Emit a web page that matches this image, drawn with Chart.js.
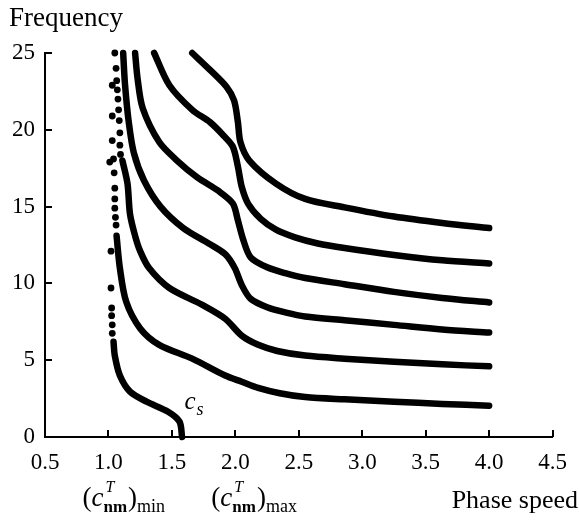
<!DOCTYPE html>
<html>
<head>
<meta charset="utf-8">
<script src="https://cdn.jsdelivr.net/npm/chart.js@4.4.0/dist/chart.umd.min.js"></script>
<style>
  html, body { margin: 0; padding: 0; background: #fff; }
  #wrap { width: 579px; height: 524px; }
</style>
</head>
<body>
<div id="wrap"><canvas id="dispChart" width="579" height="524"></canvas></div>
<script>
var xTicks = [0.5, 1.0, 1.5, 2.0, 2.5, 3.0, 3.5, 4.0, 4.5];
var yTicks = [0, 5, 10, 15, 20, 25];

// c_s branch: solid part, then loose dots along (c_nm^T)_min
var m0X = [1.04, 1.05, 1.09, 1.17, 1.30, 1.47, 1.56, 1.58];
var m0Y = [6.2, 5.3, 4.0, 2.95, 2.3, 1.65, 1.0, 0];
var m0DotX = [1.03, 1.03, 1.025, 1.025, 1.02, 1.02, 1.01, 1.03, 1.03, 1.03];
var m0DotY = [6.75, 7.3, 7.9, 8.4, 9.7, 12.1, 17.9, 19.3, 20.9, 22.9];

// first branch (ends near 2 at c = 4)
var m1X = [1.064, 1.09, 1.14, 1.25, 1.40, 1.66, 1.92, 2.05, 2.18, 2.35, 2.55, 2.86, 3.25, 3.63, 4.0];
var m1Y = [13.1, 11.0, 8.8, 7.07, 6.0, 5.1, 4.0, 3.6, 3.2, 2.85, 2.6, 2.45, 2.3, 2.15, 2.04];
var m1DotX = [1.06, 1.055, 1.05, 1.05, 1.05, 1.045, 1.04];
var m1DotY = [13.8, 14.3, 14.9, 15.5, 16.2, 17.2, 18.1];

// second branch
var m2X = [1.11, 1.15, 1.17, 1.21, 1.25, 1.32, 1.48, 1.74, 1.92, 2.05, 2.18, 2.33, 2.55, 2.86, 3.25, 3.63, 4.0];
var m2Y = [18.0, 16.5, 14.5, 13.1, 12.1, 11.0, 9.7, 8.6, 7.7, 6.6, 6.0, 5.6, 5.3, 5.1, 4.9, 4.73, 4.6];
var m2DotX = [1.05, 1.06, 1.065, 1.07, 1.075, 1.08, 1.085, 1.09, 1.09, 1.095];
var m2DotY = [25.0, 24.0, 23.2, 22.6, 22.0, 21.3, 20.6, 19.8, 19.0, 18.4];

// third .. sixth branches
var m3X = [1.116, 1.13, 1.16, 1.20, 1.28, 1.41, 1.59, 1.79, 1.92, 1.995, 2.05, 2.12, 2.25, 2.40, 2.55, 2.86, 3.25, 3.63, 4.0];
var m3Y = [25.0, 23.0, 20.5, 18.5, 16.7, 15.0, 13.6, 12.6, 11.9, 11.0, 9.9, 9.0, 8.45, 8.1, 7.85, 7.6, 7.3, 7.0, 6.8];
var m4X = [1.21, 1.23, 1.27, 1.40, 1.54, 1.70, 1.87, 1.98, 2.02, 2.06, 2.12, 2.25, 2.40, 2.55, 2.86, 3.25, 3.63, 4.0];
var m4Y = [25.0, 23.3, 21.4, 19.2, 18.0, 16.9, 16.0, 15.2, 14.1, 12.9, 11.7, 11.05, 10.65, 10.35, 9.95, 9.45, 9.05, 8.76];
var m5X = [1.36, 1.48, 1.66, 1.80, 1.91, 1.98, 2.02, 2.05, 2.10, 2.20, 2.32, 2.47, 2.65, 2.86, 3.25, 3.63, 4.0];
var m5Y = [25.0, 22.9, 21.3, 20.5, 19.6, 18.9, 17.6, 16.3, 15.2, 14.2, 13.5, 13.0, 12.6, 12.3, 11.85, 11.5, 11.3];
var m6X = [1.66, 1.80, 1.93, 1.99, 2.02, 2.04, 2.11, 2.32, 2.55, 2.86, 3.25, 3.63, 4.0];
var m6Y = [25.0, 23.9, 22.8, 21.9, 20.5, 19.2, 18.0, 16.5, 15.5, 14.95, 14.35, 13.93, 13.6];

var serif = '"Liberation Serif", "Times New Roman", serif';

function pts(xs, ys) {
  return xs.map(function (v, i) { return {x: v, y: ys[i]}; });
}

function curve(xs, ys) {
  return {
    data: pts(xs, ys),
    showLine: true,
    borderColor: '#000',
    borderWidth: 6.5,
    borderCapStyle: 'round',
    borderJoinStyle: 'round',
    tension: 0.3,
    pointRadius: 0,
    clip: false
  };
}

function dots(xs, ys) {
  return {
    data: pts(xs, ys),
    showLine: false,
    pointRadius: 3.4,
    pointBackgroundColor: '#000',
    pointBorderWidth: 0,
    clip: false
  };
}

// inward tick marks on both axes
var innerTicks = {
  id: 'innerTicks',
  afterDraw: function (chart) {
    var ctx = chart.ctx, xs = chart.scales.x, ys = chart.scales.y, a = chart.chartArea;
    ctx.save();
    ctx.strokeStyle = '#000';
    ctx.lineWidth = 2;
    ctx.beginPath();
    xTicks.forEach(function (v) {
      if (v == xs.min) return;
      var px = Math.round(xs.getPixelForValue(v));
      ctx.moveTo(px, a.bottom);
      ctx.lineTo(px, a.bottom - 7);
    });
    yTicks.forEach(function (v) {
      if (v == ys.min) return;
      var py = Math.round(ys.getPixelForValue(v));
      ctx.moveTo(a.left, py);
      ctx.lineTo(a.left + 7, py);
    });
    ctx.stroke();
    ctx.restore();
  }
};

function cLabel(ctx, x, y, sub) {
  ctx.font = '27px ' + serif;
  ctx.fillText('(', x, y);
  x += ctx.measureText('(').width;
  ctx.font = 'italic 27px ' + serif;
  ctx.fillText('c', x, y);
  x += ctx.measureText('c').width;
  ctx.font = 'italic 16px ' + serif;
  ctx.fillText('T', x + 2, y - 14);
  ctx.font = 'bold 17px ' + serif;
  ctx.fillText('nm', x, y + 6);
  x += ctx.measureText('nm').width + 1;
  ctx.font = '27px ' + serif;
  ctx.fillText(')', x, y);
  x += ctx.measureText(')').width;
  ctx.font = '18px ' + serif;
  ctx.fillText(sub, x, y + 6);
}

var labels = {
  id: 'labels',
  afterDraw: function (chart) {
    var ctx = chart.ctx, xs = chart.scales.x, ys = chart.scales.y;
    ctx.save();
    ctx.fillStyle = '#000';
    ctx.textBaseline = 'alphabetic';
    ctx.textAlign = 'left';
    ctx.font = '27px ' + serif;
    ctx.fillText('Frequency', 9, 26);
    ctx.textAlign = 'right';
    ctx.font = '26px ' + serif;
    ctx.fillText('Phase speed', 578, 508);
    ctx.textAlign = 'left';
    cLabel(ctx, xs.getPixelForValue(1.0) - 26, 506, 'min');
    cLabel(ctx, xs.getPixelForValue(2.0) - 24, 506, 'max');
    // c_s marker near the bottom of the first branch
    var cx = xs.getPixelForValue(1.6), cy = ys.getPixelForValue(1.8);
    ctx.font = 'italic 25px ' + serif;
    ctx.fillText('c', cx, cy);
    ctx.font = 'italic 18px ' + serif;
    ctx.fillText('s', cx + 12, cy + 6);
    ctx.restore();
  }
};

var ctx = document.getElementById('dispChart').getContext('2d');
var dispChart = new Chart(ctx, {
  type: 'scatter',
  data: {
    datasets: [
      curve(m0X, m0Y), dots(m0DotX, m0DotY),
      curve(m1X, m1Y), dots(m1DotX, m1DotY),
      curve(m2X, m2Y), dots(m2DotX, m2DotY),
      curve(m3X, m3Y), curve(m4X, m4Y), curve(m5X, m5Y), curve(m6X, m6Y)
    ]
  },
  options: {
    responsive: false,
    animation: false,
    devicePixelRatio: 1,
    layout: { padding: { left: 0, top: 53, right: 17, bottom: 0 } },
    plugins: {
      legend: { display: false },
      tooltip: { enabled: false }
    },
    scales: {
      x: {
        type: 'linear',
        min: 0.5,
        max: 4.5,
        afterBuildTicks: function (s) { s.ticks = xTicks.map(function (v) { return {value: v}; }); },
        afterFit: function (s) { s.height = 87; },
        grid: { display: false, drawTicks: false },
        border: { display: true, color: '#000', width: 2 },
        ticks: {
          color: '#000',
          font: { family: serif, size: 23 },
          padding: 12,
          maxRotation: 0,
          autoSkip: false,
          callback: function (v) { return Number(v).toFixed(1); }
        }
      },
      y: {
        type: 'linear',
        min: 0,
        max: 25,
        afterBuildTicks: function (s) { s.ticks = yTicks.map(function (v) { return {value: v}; }); },
        afterFit: function (s) { s.width = 45; },
        grid: { display: false, drawTicks: false },
        border: { display: true, color: '#000', width: 2 },
        ticks: {
          color: '#000',
          font: { family: serif, size: 23 },
          padding: 10,
          autoSkip: false
        }
      }
    }
  },
  plugins: [innerTicks, labels]
});
</script>
</body>
</html>
